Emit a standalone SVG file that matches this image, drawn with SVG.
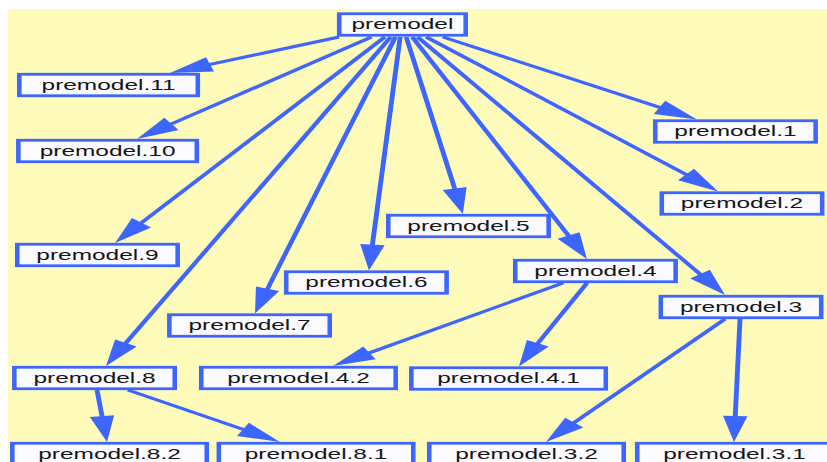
<svg xmlns="http://www.w3.org/2000/svg" width="827" height="462" viewBox="0 0 827 462">
<style>
.bg{fill:#fffbba}
.node rect{fill:#fbfbff;stroke:#3d66ff;stroke-width:2.8}
.node text{font-family:"Liberation Sans",Arial,Helvetica,sans-serif;font-size:15px;fill:#151515;text-anchor:middle}
.edges line{stroke:#3d66ff;stroke-width:3;fill:none;marker-end:url(#arr)}
</style>
<defs>
<marker id="arr" markerUnits="userSpaceOnUse" markerWidth="40" markerHeight="40" refX="0" refY="0" orient="auto" overflow="visible">
<path d="M-6,-7.5 L20,0 L-6,7.5 z" fill="#3d66ff"/>
</marker>
</defs>
<rect class="bg" x="8" y="9" width="819" height="453"/>
<g transform="scale(1.63,1)">
<g id="connectors" class="edges">
<line x1="208.0" y1="37" x2="123.2" y2="66.4"/>
<line x1="227.9" y1="37" x2="100.3" y2="127.4"/>
<line x1="236.1" y1="37" x2="83.1" y2="227.4"/>
<line x1="239.7" y1="37" x2="74.4" y2="348.3"/>
<line x1="242.6" y1="37" x2="162.4" y2="294.4"/>
<line x1="245.5" y1="37" x2="228.0" y2="250.6"/>
<line x1="249.2" y1="37" x2="280.1" y2="194.4"/>
<line x1="252.9" y1="37" x2="351.4" y2="241.0"/>
<line x1="256.2" y1="37" x2="433.0" y2="278.9"/>
<line x1="261.5" y1="37" x2="425.4" y2="178.4"/>
<line x1="271.7" y1="37" x2="409.9" y2="110.2"/>
<line x1="345.4" y1="283" x2="221.5" y2="355.9"/>
<line x1="360.1" y1="283" x2="327.3" y2="348.6"/>
<line x1="444.8" y1="319" x2="348.3" y2="427.1"/>
<line x1="454.0" y1="319" x2="450.9" y2="422.0"/>
<line x1="59.5" y1="390" x2="63.3" y2="422.1"/>
<line x1="78.5" y1="390" x2="154.3" y2="432.3"/>
</g>
<g id="premodel" class="node"><rect x="208.1" y="13.75" width="77.6" height="21.5"/><text x="246.9" y="29.5">premodel</text></g>
<g id="premodel.11" class="node"><rect x="11.85" y="74.25" width="109.5" height="21.5"/><text x="66.6" y="90">premodel.11</text></g>
<g id="premodel.10" class="node"><rect x="11.25" y="140.25" width="109.5" height="21.5"/><text x="66.0" y="156">premodel.10</text></g>
<g id="premodel.9" class="node"><rect x="10.6" y="244.25" width="98.4" height="21.5"/><text x="59.8" y="260">premodel.9</text></g>
<g id="premodel.8" class="node"><rect x="8.8" y="367.25" width="98.4" height="21.5"/><text x="58.0" y="383">premodel.8</text></g>
<g id="premodel.7" class="node"><rect x="103.9" y="314.75" width="98.4" height="21.5"/><text x="153.1" y="330.5">premodel.7</text></g>
<g id="premodel.6" class="node"><rect x="175.6" y="271.75" width="98.4" height="21.5"/><text x="224.8" y="287.5">premodel.6</text></g>
<g id="premodel.5" class="node"><rect x="238.2" y="215.25" width="98.4" height="21.5"/><text x="287.4" y="231">premodel.5</text></g>
<g id="premodel.4" class="node"><rect x="316.1" y="260.25" width="98.4" height="21.5"/><text x="365.3" y="276">premodel.4</text></g>
<g id="premodel.3" class="node"><rect x="405.4" y="296.25" width="98.4" height="21.5"/><text x="454.6" y="312">premodel.3</text></g>
<g id="premodel.2" class="node"><rect x="406.0" y="192.75" width="98.4" height="21.5"/><text x="455.2" y="208.5">premodel.2</text></g>
<g id="premodel.1" class="node"><rect x="402.0" y="120.75" width="98.4" height="21.5"/><text x="451.2" y="136.5">premodel.1</text></g>
<g id="premodel.4.2" class="node"><rect x="123.45" y="367.25" width="119.3" height="21.5"/><text x="183.1" y="383">premodel.4.2</text></g>
<g id="premodel.4.1" class="node"><rect x="252.35" y="367.75" width="119.3" height="21.5"/><text x="312.0" y="383.5">premodel.4.1</text></g>
<g id="premodel.8.2" class="node"><rect x="7.55" y="443.25" width="119.3" height="21.5"/><text x="67.2" y="459">premodel.8.2</text></g>
<g id="premodel.8.1" class="node"><rect x="134.25" y="443.25" width="119.3" height="21.5"/><text x="193.9" y="459">premodel.8.1</text></g>
<g id="premodel.3.2" class="node"><rect x="263.35" y="443.25" width="119.3" height="21.5"/><text x="323.0" y="459">premodel.3.2</text></g>
<g id="premodel.3.1" class="node"><rect x="390.95" y="443.25" width="119.3" height="21.5"/><text x="450.6" y="459">premodel.3.1</text></g>
</g>
</svg>
